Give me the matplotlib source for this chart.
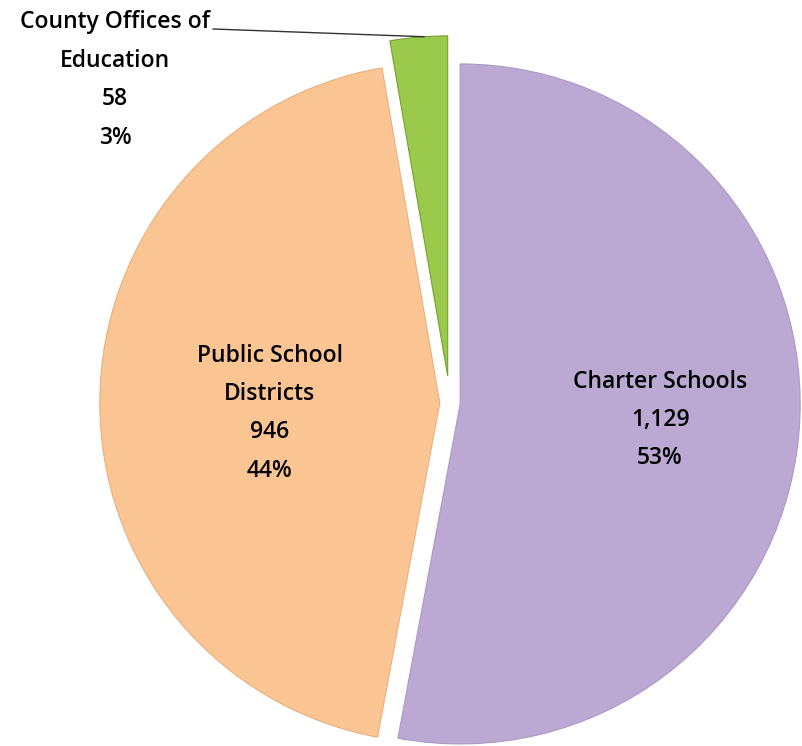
import numpy as np
import matplotlib.pyplot as plt

labels = ['Charter Schools', 'Public School\nDistricts', 'County Offices of\nEducation']
counts = [1129, 946, 58]
colors = ['#BBA8D3', '#FBC493', '#9BC94B']
rims = ['#AC99C5', '#E8B080', '#74A232']
explode = [0.03, 0.03, 0.08]

plt.rcParams['font.family'] = ['Open Sans', 'DejaVu Sans']

fig = plt.figure(figsize=(8.02, 7.46), dpi=100, facecolor='w')
ax = fig.add_axes([0, 0, 1, 1])

wedges, _ = ax.pie(counts, colors=colors, explode=explode, startangle=90,
                   counterclock=False, radius=1.0,
                   wedgeprops=dict(linewidth=0.8))

# thin darker rim like the bevel in the original
for w, c in zip(wedges, rims):
    w.set_edgecolor(c)

ax.set_xlim(-450 / 340, 352 / 340)
ax.set_ylim(-343 / 340, 403 / 340)
ax.set_aspect('equal')
ax.axis('off')

total = sum(counts)
pcts = [round(100 * c / total) for c in counts]
txt = [f"{l}\n{c:,}\n{p}%" for l, c, p in zip(labels, counts, pcts)]

fs = 16.5
ls = 1.8
ax.text(0.618, -0.05, txt[0], ha='center', va='center', fontsize=fs,
        fontweight='semibold', linespacing=ls)
ax.text(-0.53, -0.03, txt[1], ha='center', va='center', fontsize=fs,
        fontweight='semibold', linespacing=ls)
ax.text(-0.985, 0.95, txt[2], ha='center', va='center', fontsize=fs,
        fontweight='semibold', linespacing=ls)

# leader line from the county label to the green slice
g = wedges[2]
ang = np.deg2rad(94.0)
ex = g.center[0] + g.r * np.cos(ang)
ey = g.center[1] + g.r * np.sin(ang)
ax.plot([(213 - 450) / 340, ex], [(403 - 29) / 340, ey], color='#333333', lw=1.0)

plt.savefig('out.png', dpi=100, facecolor='w')
